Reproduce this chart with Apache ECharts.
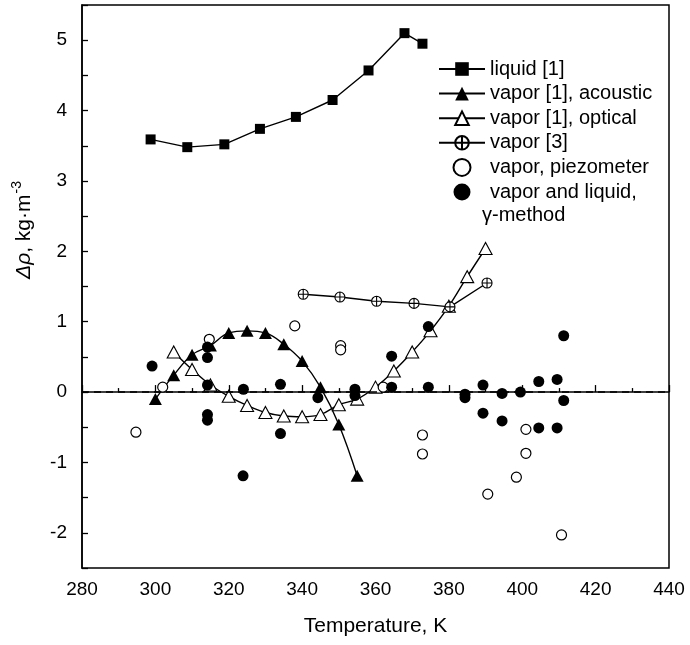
<!DOCTYPE html>
<html><head><meta charset="utf-8">
<script src="https://cdn.jsdelivr.net/npm/echarts@6/dist/echarts.min.js"></script>
<style>html,body{margin:0;padding:0;background:#fff}#c{width:690px;height:645px}</style>
</head><body><div id="c"></div>
<script>
// ---- data ----
var liquidT = [298.7, 308.7, 318.8, 328.5, 338.3, 348.3, 358.1, 367.9, 372.8];
var liquidV = [3.59, 3.48, 3.52, 3.74, 3.91, 4.15, 4.57, 5.10, 4.95];

var acousticT = [300, 305, 310, 315, 320, 325, 330, 335, 340, 345, 350, 355];
var acousticV = [-0.10, 0.24, 0.53, 0.66, 0.84, 0.87, 0.84, 0.68, 0.44, 0.07, -0.46, -1.19];

var opticalT = [305, 310, 315, 320, 325, 330, 335, 340, 345, 350, 355, 360, 365, 370, 375, 380, 385, 390];
var opticalV = [0.57, 0.32, 0.10, -0.06, -0.19, -0.29, -0.34, -0.35, -0.32, -0.18, -0.10, 0.07, 0.30, 0.57, 0.87, 1.22, 1.64, 2.04];

var vapor3T = [340.3, 350.3, 360.3, 370.5, 380.3, 390.4];
var vapor3V = [1.39, 1.35, 1.29, 1.26, 1.21, 1.55];

var piezoT = [294.7, 302.0, 314.7, 338.0, 350.5, 350.5, 362.1, 372.8, 372.8, 390.6, 398.4, 401.0, 401.0, 410.7];
var piezoV = [-0.57, 0.07, 0.75, 0.94, 0.66, 0.60, 0.07, -0.61, -0.88, -1.45, -1.21, -0.87, -0.53, -2.03];

var gammaT = [299.1, 314.2, 314.2, 314.2, 314.2, 314.2, 324.0, 323.9, 334.1, 334.1, 344.3, 354.4, 354.4, 364.4, 364.4, 374.4, 374.4, 384.4, 384.4, 389.3, 389.3, 394.5, 394.5, 399.5, 404.5, 404.5, 409.5, 409.5, 411.3, 411.3];
var gammaV = [0.37, 0.64, 0.49, 0.10, -0.32, -0.40, 0.04, -1.19, 0.11, -0.59, -0.08, 0.04, -0.05, 0.51, 0.07, 0.93, 0.07, -0.03, -0.08, 0.10, -0.30, -0.02, -0.41, 0.00, 0.15, -0.51, 0.18, -0.51, 0.80, -0.12];

var names = ['liquid [1]', 'vapor [1], acoustic', 'vapor [1], optical', 'vapor [3]', 'vapor, piezometer', 'vapor and liquid,'];

function pairs(xs, ys) { return xs.map(function (x, i) { return [x, ys[i]]; }); }

var K = '#000';
var FONT = 'Liberation Sans';
var crossCircle = 'path://M10,0 A10,10 0 1,1 10,20 A10,10 0 1,1 10,0 Z M10,0 L10,20 M0,10 L20,10';

var chart = echarts.init(document.getElementById('c'), null, { renderer: 'canvas' });
chart.setOption({
  animation: false,
  textStyle: { fontFamily: FONT },
  grid: { left: 82, right: 21, top: 5, bottom: 77, show: true, borderColor: K, borderWidth: 1.5, backgroundColor: 'transparent' },
  xAxis: {
    type: 'value', min: 280, max: 440, interval: 20,
    name: 'Temperature, K', nameLocation: 'middle', nameGap: 48,
    nameTextStyle: { fontSize: 21, color: K, fontFamily: FONT },
    axisLine: { lineStyle: { color: K, width: 1.5 } },
    axisTick: { inside: true, length: 7, lineStyle: { color: K, width: 1.3 } },
    minorTick: { show: true, splitNumber: 2, length: 4, lineStyle: { color: K, width: 1.3 } },
    axisLabel: { fontSize: 19, color: K, margin: 12, fontFamily: FONT },
    splitLine: { show: false }
  },
  yAxis: {
    type: 'value', min: -2.5, max: 5.5, interval: 0.5,
    axisLine: { lineStyle: { color: K, width: 1.5 } },
    axisTick: { inside: true, length: 6, lineStyle: { color: K, width: 1.3 } },
    axisLabel: {
      fontSize: 19, color: K, margin: 15, fontFamily: FONT,
      formatter: function (v) { return Math.abs(v - Math.round(v)) < 1e-9 ? String(Math.round(v)) : ''; }
    },
    splitLine: { show: false }
  },
  legend: {
    orient: 'vertical', left: 433, top: 54, itemWidth: 46, itemHeight: 17, itemGap: 4.6,
    textStyle: { fontSize: 20, color: K, fontFamily: FONT },
    data: names
  },
  graphic: [
    { type: 'text', left: 482, top: 205, style: { text: 'γ-method', font: '20px "Liberation Sans"', fill: K } },
    {
      type: 'text', x: 24, y: 230, rotation: Math.PI / 2, originX: 0, originY: 0,
      style: {
        text: '{i|Δρ}, kg·m{s|-3}', fill: K, align: 'center', verticalAlign: 'middle',
        font: '21px "Liberation Sans"',
        rich: {
          i: { fontStyle: 'italic', fontSize: 21, fontFamily: FONT, fill: K },
          s: { fontSize: 14, fontFamily: FONT, fill: K, padding: [0, 0, 14, 1] }
        }
      }
    }
  ],
  series: [
    {
      name: names[0], type: 'line', data: pairs(liquidT, liquidV), symbol: 'rect', symbolSize: 10,
      itemStyle: { color: K }, lineStyle: { color: K, width: 1.4 }, z: 3,
      markLine: {
        silent: true, symbol: 'none', label: { show: false },
        lineStyle: { color: K, width: 1.5, type: [7, 5] },
        data: [{ yAxis: 0 }]
      }
    },
    {
      name: names[1], type: 'line', data: pairs(acousticT, acousticV), symbol: 'triangle', symbolSize: [13, 12],
      smooth: 0.4, itemStyle: { color: K }, lineStyle: { color: K, width: 1.4 }, z: 4
    },
    {
      name: names[2], type: 'line', data: pairs(opticalT, opticalV), symbol: 'triangle', symbolSize: [13, 12],
      smooth: 0.4, itemStyle: { color: '#fff', borderColor: K, borderWidth: 1.1 }, lineStyle: { color: K, width: 1.4 }, z: 4
    },
    {
      name: names[3], type: 'line', data: pairs(vapor3T, vapor3V), symbol: crossCircle, symbolSize: 10,
      itemStyle: { color: '#fff', borderColor: K, borderWidth: 1.1 }, lineStyle: { color: K, width: 1.4 }, z: 4
    },
    {
      name: names[4], type: 'scatter', data: pairs(piezoT, piezoV), symbol: 'circle', symbolSize: 10,
      itemStyle: { color: '#fff', borderColor: K, borderWidth: 1.2, opacity: 1 }, z: 5
    },
    {
      name: names[5], type: 'scatter', data: pairs(gammaT, gammaV), symbol: 'circle', symbolSize: 11,
      itemStyle: { color: K, opacity: 1 }, z: 5
    }
  ]
});
</script>
</body></html>
